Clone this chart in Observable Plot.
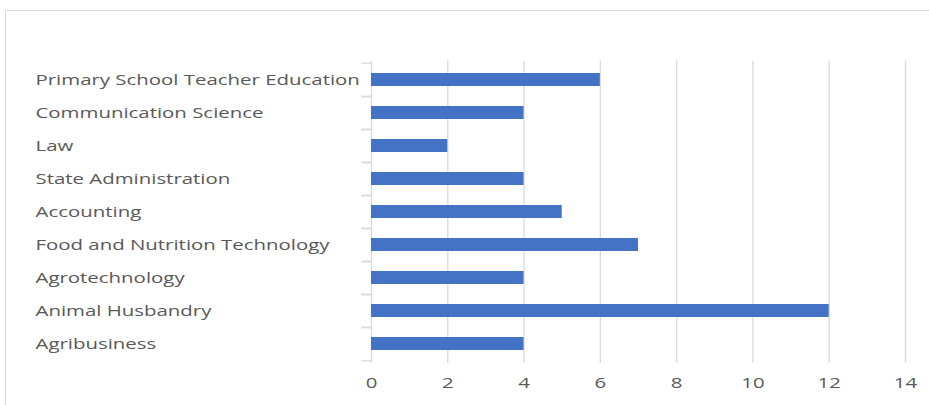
<!DOCTYPE html>
<html>
<head>
<meta charset="utf-8">
<script src="https://cdn.jsdelivr.net/npm/d3@7"></script>
<script src="https://cdn.jsdelivr.net/npm/@observablehq/plot@0.6"></script>
<style>
  html, body { margin: 0; padding: 0; background: #fff; }
  #wrap { position: relative; width: 929px; height: 405px; overflow: hidden; }
  #frame { position: absolute; left: 5px; top: 10px; width: 1000px; height: 600px; border: 1px solid #d9d9d9; box-sizing: border-box; pointer-events: none; }
  #chart { position: absolute; left: 0; top: 0; }
</style>
</head>
<body>
<div id="wrap"><div id="frame"></div><div id="chart"></div></div>
<script>
const categories = [
  "Primary School Teacher Education",
  "Communication Science",
  "Law",
  "State Administration",
  "Accounting",
  "Food and Nutrition Technology",
  "Agrotechnology",
  "Animal Husbandry",
  "Agribusiness"
];
const values = [6, 4, 2, 4, 5, 7, 4, 12, 4];
const xTicks = [0, 2, 4, 6, 8, 10, 12, 14];

const data = categories.map((c, i) => ({category: c, value: values[i]}));
const mTop = 60.7, mBottom = 42.3;
const step = (405 - mTop - mBottom) / categories.length;

const chart = Plot.plot({
  width: 929,
  height: 405,
  marginLeft: 371,
  marginRight: 24,
  marginTop: mTop,
  marginBottom: mBottom,
  style: {fontFamily: "'Open Sans', sans-serif", background: "transparent"},
  x: {domain: [0, 14], ticks: xTicks},
  y: {domain: categories, paddingInner: 0.6, paddingOuter: 0.3},
  marks: [
    Plot.gridX(xTicks.filter(t => t > 0), {stroke: "#d9d9d9", strokeOpacity: 1, strokeWidth: 1.3}),
    Plot.ruleX([0], {stroke: "#d9d9d9", strokeWidth: 1.3}),
    Plot.axisY({tickSize: 9.5, tickFormat: () => "", dy: -step / 2, stroke: "#d9d9d9", strokeWidth: 1.3, label: null}),
    Plot.axisY({tickSize: 9.5, tickFormat: () => "", dy: step / 2, stroke: "#d9d9d9", strokeWidth: 1.3, label: null}),
    Plot.barX(data, {x: "value", y: "category", fill: "#4472C4"}),
    Plot.text(categories, {y: d => d, frameAnchor: "left", textAnchor: "start", dx: 35 - 371,
      fill: "#595959", fontSize: 15}),
    Plot.axisX({ticks: xTicks, tickSize: 0, tickPadding: 14, fontSize: 15, color: "#595959", label: null})
  ]
});
document.getElementById("chart").appendChild(chart);

// Horizontal stretch of the text, as in the reference picture
const stretch = 1.36;
chart.querySelectorAll('g[aria-label="text"] text, g[aria-label="x-axis tick label"] text').forEach(el => {
  const len = el.getComputedTextLength();
  if (len > 0) {
    el.setAttribute("textLength", len * stretch);
    el.setAttribute("lengthAdjust", "spacingAndGlyphs");
  }
});
</script>
</body>
</html>
